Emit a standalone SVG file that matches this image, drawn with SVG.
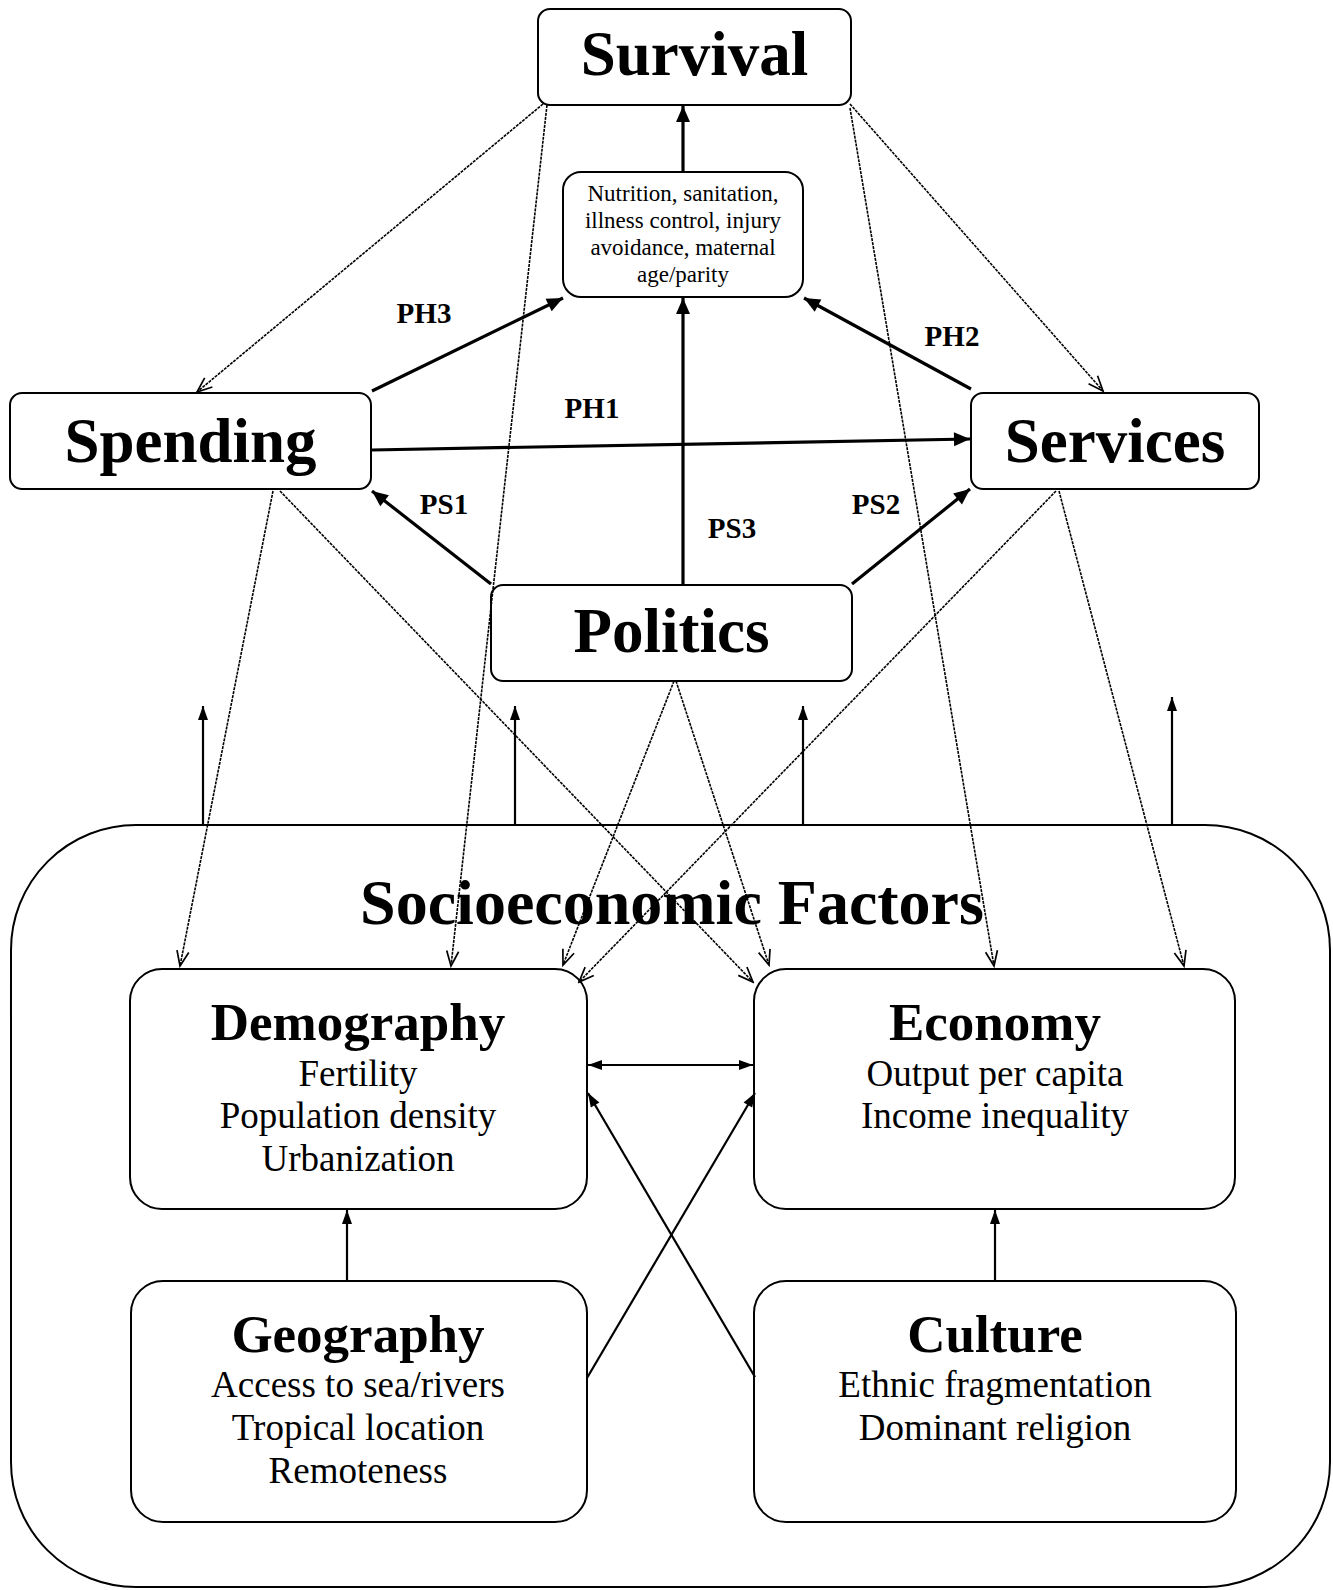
<svg xmlns="http://www.w3.org/2000/svg" width="1333" height="1590" viewBox="0 0 1333 1590">
<defs>
<style>
.box{fill:#fff;stroke:#000;stroke-width:2}
.title{font-family:"Liberation Serif","Times New Roman",serif;font-weight:bold;text-anchor:middle;fill:#000}
.sub{font-family:"Liberation Serif","Times New Roman",serif;text-anchor:middle;fill:#000}
.lbl{font-family:"Liberation Serif","Times New Roman",serif;font-weight:bold;font-size:29px;text-anchor:middle;fill:#000}
.thick{fill:none;stroke:#000;stroke-width:3.2}
.mid{fill:none;stroke:#000;stroke-width:2.2}
.dash{fill:none;stroke:#000;stroke-width:1.6;stroke-dasharray:3 1}
</style>
<marker id="fa" markerUnits="userSpaceOnUse" markerWidth="20" markerHeight="20" viewBox="0 0 20 20" refX="18" refY="10" orient="auto">
<path d="M2,3 L18,10 L2,17 Z" fill="#000"/>
</marker>
<marker id="fa2" markerUnits="userSpaceOnUse" markerWidth="16" markerHeight="16" viewBox="0 0 16 16" refX="15" refY="8" orient="auto-start-reverse">
<path d="M1,3 L15,8 L1,13 Z" fill="#000"/>
</marker>
<marker id="oa" markerUnits="userSpaceOnUse" markerWidth="20" markerHeight="20" viewBox="0 0 20 20" refX="18" refY="10" orient="auto">
<path d="M3,4 L18,10 L3,16" fill="none" stroke="#000" stroke-width="1.7"/>
</marker>
</defs>

<g id="socioeconomic-factors">
<rect class="box" x="11" y="825" width="1319" height="762" rx="125"/>
<text class="title" x="672" y="924" font-size="64">Socioeconomic Factors</text>
</g>

<g id="survival">
<rect class="box" x="538" y="9" width="313" height="96" rx="12"/>
<text class="title" x="694.5" y="75" font-size="63">Survival</text>
</g>

<g id="proximate">
<rect class="box" x="563" y="172" width="240" height="125" rx="18"/>
<text class="sub" x="683" y="201" font-size="23">Nutrition, sanitation,</text>
<text class="sub" x="683" y="228" font-size="23">illness control, injury</text>
<text class="sub" x="683" y="255" font-size="23">avoidance, maternal</text>
<text class="sub" x="683" y="282" font-size="23">age/parity</text>
</g>

<g id="spending">
<rect class="box" x="10" y="393" width="361" height="96" rx="12"/>
<text class="title" x="190.5" y="462" font-size="63">Spending</text>
</g>

<g id="services">
<rect class="box" x="971" y="393" width="288" height="96" rx="12"/>
<text class="title" x="1115" y="462" font-size="63">Services</text>
</g>

<g id="politics">
<rect class="box" x="491" y="585" width="361" height="96" rx="12"/>
<text class="title" x="671.5" y="652" font-size="63">Politics</text>
</g>

<g id="demography">
<rect class="box" x="130" y="969" width="457" height="240" rx="32"/>
<text class="title" x="358" y="1040" font-size="53">Demography</text>
<text class="sub" x="358" y="1086" font-size="37">Fertility</text>
<text class="sub" x="358" y="1128" font-size="37">Population density</text>
<text class="sub" x="358" y="1171" font-size="37">Urbanization</text>
</g>

<g id="economy">
<rect class="box" x="754" y="969" width="481" height="240" rx="32"/>
<text class="title" x="995" y="1040" font-size="53">Economy</text>
<text class="sub" x="995" y="1086" font-size="37">Output per capita</text>
<text class="sub" x="995" y="1128" font-size="37">Income inequality</text>
</g>

<g id="geography">
<rect class="box" x="131" y="1281" width="456" height="241" rx="32"/>
<text class="title" x="358" y="1352" font-size="53">Geography</text>
<text class="sub" x="358" y="1397" font-size="37">Access to sea/rivers</text>
<text class="sub" x="358" y="1440" font-size="37">Tropical location</text>
<text class="sub" x="358" y="1483" font-size="37">Remoteness</text>
</g>

<g id="culture">
<rect class="box" x="754" y="1281" width="482" height="241" rx="32"/>
<text class="title" x="995" y="1352" font-size="53">Culture</text>
<text class="sub" x="995" y="1397" font-size="37">Ethnic fragmentation</text>
<text class="sub" x="995" y="1440" font-size="37">Dominant religion</text>
</g>

<g id="connectors">
<line class="thick" x1="683" y1="172" x2="683" y2="106" marker-end="url(#fa)"/>
<line class="thick" x1="683" y1="585" x2="683" y2="298" marker-end="url(#fa)"/>
<line class="thick" x1="372" y1="391" x2="563" y2="298" marker-end="url(#fa)"/>
<line class="thick" x1="971" y1="389" x2="804" y2="298" marker-end="url(#fa)"/>
<line class="thick" x1="372" y1="450" x2="970" y2="439" marker-end="url(#fa)"/>
<line class="thick" x1="491" y1="584" x2="372" y2="491" marker-end="url(#fa)"/>
<line class="thick" x1="852" y1="584" x2="970" y2="489" marker-end="url(#fa)"/>

<line class="mid" x1="203" y1="825" x2="203" y2="706" marker-end="url(#fa2)"/>
<line class="mid" x1="515" y1="825" x2="515" y2="706" marker-end="url(#fa2)"/>
<line class="mid" x1="803" y1="825" x2="803" y2="706" marker-end="url(#fa2)"/>
<line class="mid" x1="1172" y1="825" x2="1172" y2="697" marker-end="url(#fa2)"/>

<line class="mid" x1="347" y1="1281" x2="347" y2="1210" marker-end="url(#fa2)"/>
<line class="mid" x1="995" y1="1281" x2="995" y2="1210" marker-end="url(#fa2)"/>
<line class="mid" x1="588" y1="1065" x2="753" y2="1065" marker-start="url(#fa2)" marker-end="url(#fa2)"/>
<line class="mid" x1="587" y1="1378" x2="755" y2="1093" marker-end="url(#fa2)"/>
<line class="mid" x1="755" y1="1377" x2="588" y2="1093" marker-end="url(#fa2)"/>

<line class="dash" x1="543" y1="104" x2="197" y2="392" marker-end="url(#oa)"/>
<line class="dash" x1="850" y1="104" x2="1103" y2="391" marker-end="url(#oa)"/>
<line class="dash" x1="547" y1="105" x2="451" y2="966" marker-end="url(#oa)"/>
<line class="dash" x1="850" y1="108" x2="994" y2="966" marker-end="url(#oa)"/>
<line class="dash" x1="273" y1="491" x2="180" y2="966" marker-end="url(#oa)"/>
<line class="dash" x1="280" y1="491" x2="753" y2="982" marker-end="url(#oa)"/>
<line class="dash" x1="1056" y1="491" x2="579" y2="982" marker-end="url(#oa)"/>
<line class="dash" x1="1059" y1="491" x2="1184" y2="966" marker-end="url(#oa)"/>
<line class="dash" x1="674" y1="681" x2="563" y2="965" marker-end="url(#oa)"/>
<line class="dash" x1="676" y1="681" x2="769" y2="965" marker-end="url(#oa)"/>

<text class="lbl" x="424" y="323">PH3</text>
<text class="lbl" x="592" y="418">PH1</text>
<text class="lbl" x="952" y="346">PH2</text>
<text class="lbl" x="444" y="514">PS1</text>
<text class="lbl" x="732" y="538">PS3</text>
<text class="lbl" x="876" y="514">PS2</text>
</g>
</svg>
